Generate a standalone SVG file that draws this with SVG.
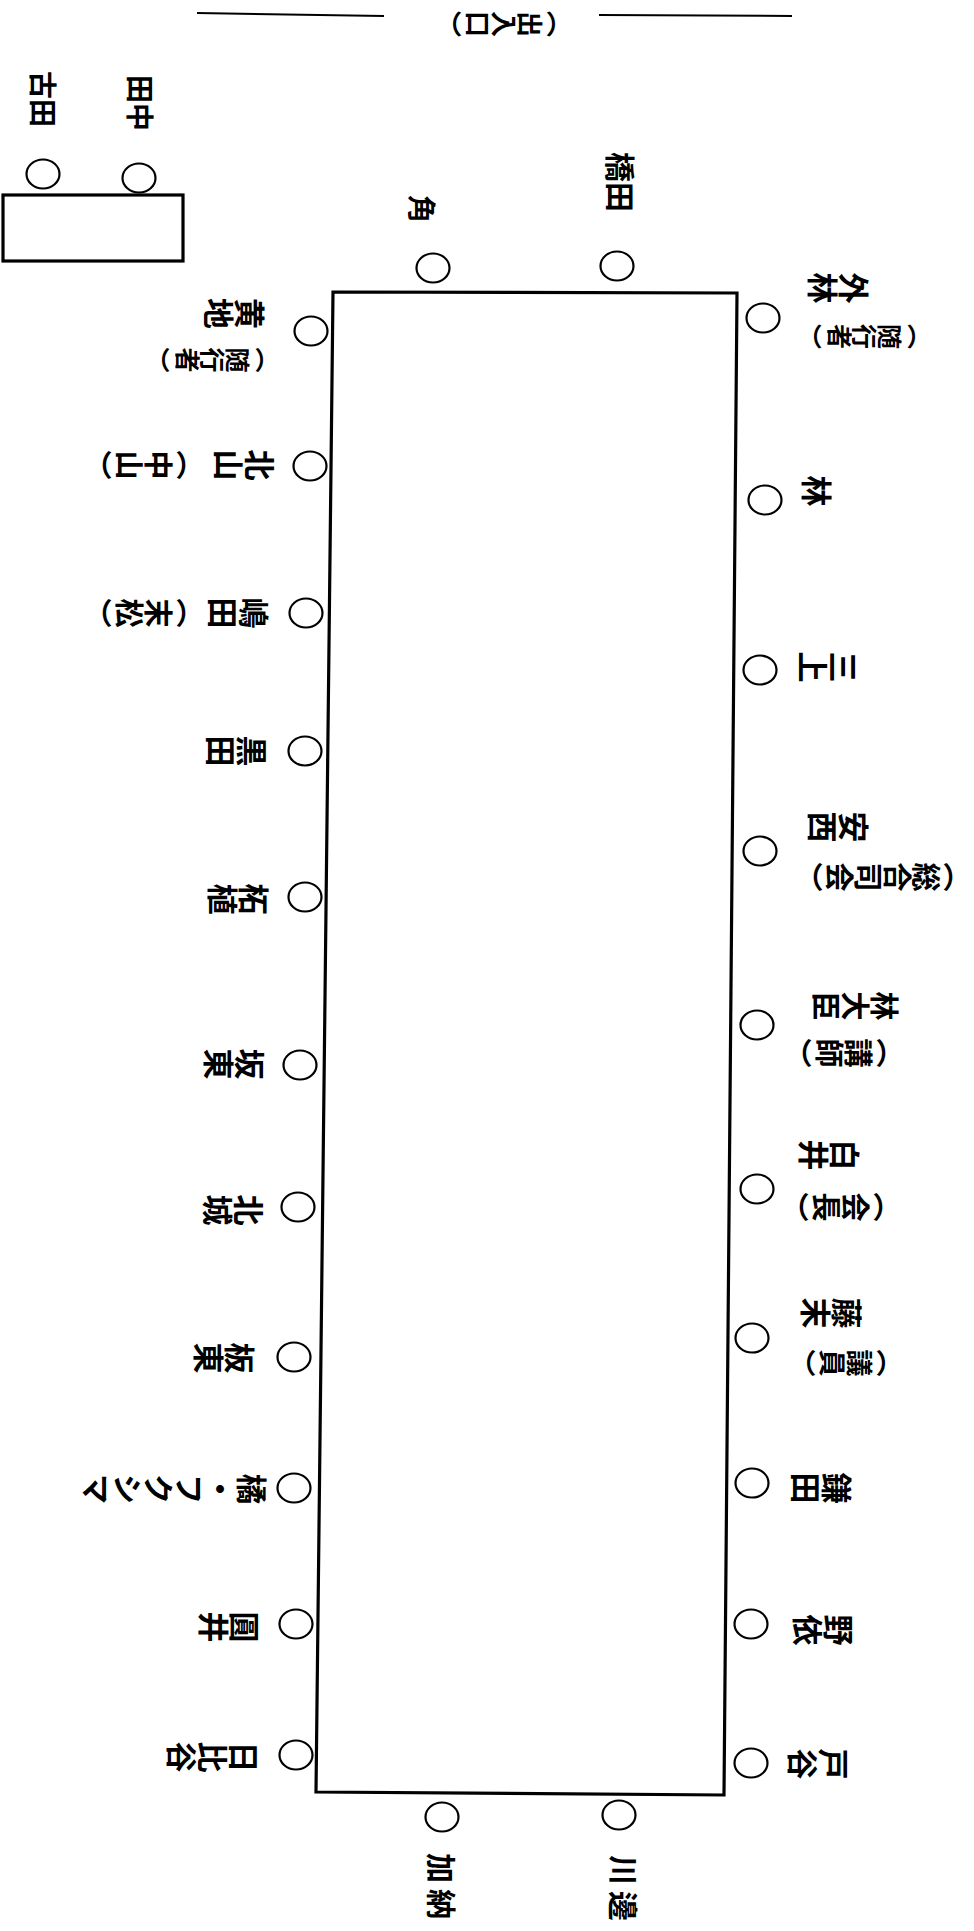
<svg xmlns="http://www.w3.org/2000/svg" width="974" height="1931" viewBox="0 0 974 1931">
<style>
.t{font-family:"Noto Sans CJK JP","Noto Sans CJK SC",sans-serif;font-weight:700;fill:#000}
.v{writing-mode:vertical-rl}
.h{dominant-baseline:central}
.seat{fill:none;stroke:#000;stroke-width:2.2}
.tbl{fill:none;stroke:#000;stroke-width:3.2;stroke-linejoin:miter}
.ln{stroke:#000;stroke-width:2}
</style>
<rect width="974" height="1931" fill="#fff"/>
<g id="entrance">
<line class="ln" x1="197" y1="13" x2="384" y2="16"/>
<line class="ln" x1="599" y1="15" x2="792" y2="16"/>
<text class="t v" font-size="26" transform="translate(572,24) rotate(90)"><tspan letter-spacing="3">（</tspan>出入<tspan letter-spacing="3">口</tspan>）</text>
</g>
<g id="side-table">
<rect class="tbl" x="3" y="195" width="180" height="66"/>
</g>
<g id="main-table">
<polygon class="tbl" points="333,292 737,293 724,1795 316,1792"/>
</g>
<g id="seat-furuta"><ellipse class="seat" cx="43" cy="174" rx="16.5" ry="14.5"/><text class="t h" font-size="28" transform="translate(44,71) rotate(90)">古田</text></g>
<g id="seat-tanaka"><ellipse class="seat" cx="139" cy="178" rx="16.5" ry="14.5"/><text class="t h" font-size="28" transform="translate(141,75) rotate(90)">田中</text></g>
<g id="seat-sumi"><ellipse class="seat" cx="433" cy="268" rx="16.5" ry="14.5"/><text class="t h" font-size="28" transform="translate(423,195) rotate(90)">角</text></g>
<g id="seat-hashida"><ellipse class="seat" cx="617" cy="266" rx="16.5" ry="14.5"/><text class="t h" font-size="30" transform="translate(622,152) rotate(90)">橋田</text></g>
<g id="seat-kouchi"><ellipse class="seat" cx="311" cy="331" rx="16.5" ry="14.5"/><text class="t v" font-size="31" transform="translate(265,313.5) rotate(90)">黄地</text><text class="t v" font-size="25" transform="translate(280,360) rotate(90)"><tspan letter-spacing="5">（</tspan>随行<tspan letter-spacing="5">者</tspan>）</text></g>
<g id="seat-kitayama"><ellipse class="seat" cx="310" cy="466" rx="16.5" ry="14.5"/><text class="t v" font-size="31" transform="translate(275,465) rotate(90)">北山</text><text class="t v" font-size="29" transform="translate(205,465) rotate(90)"><tspan letter-spacing="3">（</tspan>中<tspan letter-spacing="3">山</tspan>）</text></g>
<g id="seat-shimada"><ellipse class="seat" cx="306" cy="613" rx="16.5" ry="14.5"/><text class="t v" font-size="31" transform="translate(269,613) rotate(90)">嶋田</text><text class="t v" font-size="29" transform="translate(205,613) rotate(90)"><tspan letter-spacing="3">（</tspan>末<tspan letter-spacing="3">松</tspan>）</text></g>
<g id="seat-kuroda"><ellipse class="seat" cx="305" cy="751" rx="16.5" ry="14.5"/><text class="t v" font-size="31" transform="translate(267,751) rotate(90)">黒田</text></g>
<g id="seat-tsuge"><ellipse class="seat" cx="305" cy="897" rx="16.5" ry="14.5"/><text class="t v" font-size="31" transform="translate(269,899) rotate(90)">柘植</text></g>
<g id="seat-bando"><ellipse class="seat" cx="300" cy="1065" rx="16.5" ry="14.5"/><text class="t v" font-size="31" transform="translate(265,1064) rotate(90)">坂東</text></g>
<g id="seat-hojo"><ellipse class="seat" cx="298" cy="1207" rx="16.5" ry="14.5"/><text class="t v" font-size="31" transform="translate(264,1210) rotate(90)">北城</text></g>
<g id="seat-itahigashi"><ellipse class="seat" cx="294" cy="1357" rx="16.5" ry="14.5"/><text class="t v" font-size="31" transform="translate(255,1358) rotate(90)">板東</text></g>
<g id="seat-tachibana"><ellipse class="seat" cx="294" cy="1488" rx="16.5" ry="14.5"/><text class="t v" font-size="31" transform="translate(267,1489) rotate(90)">橘・フクシマ</text></g>
<g id="seat-marui"><ellipse class="seat" cx="296" cy="1624" rx="16.5" ry="14.5"/><text class="t v" font-size="31" transform="translate(260,1627) rotate(90)">圓井</text></g>
<g id="seat-hibiya"><ellipse class="seat" cx="296" cy="1755" rx="16.5" ry="14.5"/><text class="t v" font-size="31" transform="translate(259,1757) rotate(90)">日比谷</text></g>
<g id="seat-hayashi-aide"><ellipse class="seat" cx="763" cy="318" rx="16.5" ry="14.5"/><text class="t v" font-size="31" transform="translate(869,288) rotate(90)">外林</text><text class="t v" font-size="25" transform="translate(932,336.5) rotate(90)"><tspan letter-spacing="5">（</tspan>随行<tspan letter-spacing="5">者</tspan>）</text></g>
<g id="seat-hayashi"><ellipse class="seat" cx="765" cy="500" rx="16.5" ry="14.5"/><text class="t v" font-size="31" transform="translate(832,491) rotate(90)">林</text></g>
<g id="seat-mikami"><ellipse class="seat" cx="760" cy="670" rx="16.5" ry="14.5"/><text class="t v" font-size="31" transform="translate(859,667) rotate(90)">三上</text></g>
<g id="seat-anzai"><ellipse class="seat" cx="760" cy="851" rx="16.5" ry="14.5"/><text class="t v" font-size="31" transform="translate(869,827) rotate(90)">安西</text><text class="t v" font-size="29" transform="translate(972,877) rotate(90)"><tspan letter-spacing="2">（</tspan>総合司<tspan letter-spacing="2">会</tspan>）</text></g>
<g id="seat-minister"><ellipse class="seat" cx="757" cy="1025" rx="16.5" ry="14.5"/><text class="t v" font-size="29" transform="translate(899,1006) rotate(90)">林大臣</text><text class="t v" font-size="29" transform="translate(905,1053) rotate(90)"><tspan letter-spacing="3">（</tspan>講<tspan letter-spacing="3">師</tspan>）</text></g>
<g id="seat-shirai"><ellipse class="seat" cx="757" cy="1189" rx="16.5" ry="14.5"/><text class="t v" font-size="31" transform="translate(860,1155) rotate(90)">白井</text><text class="t v" font-size="29" transform="translate(902,1207) rotate(90)"><tspan letter-spacing="3">（</tspan>会<tspan letter-spacing="3">長</tspan>）</text></g>
<g id="seat-fujisue"><ellipse class="seat" cx="752" cy="1338" rx="16.5" ry="14.5"/><text class="t v" font-size="31" transform="translate(862,1313) rotate(90)">藤末</text><text class="t v" font-size="27" transform="translate(903,1363) rotate(90)"><tspan letter-spacing="3">（</tspan>議<tspan letter-spacing="3">員</tspan>）</text></g>
<g id="seat-kamata"><ellipse class="seat" cx="752" cy="1483" rx="16.5" ry="14.5"/><text class="t v" font-size="31" transform="translate(852,1488) rotate(90)">鎌田</text></g>
<g id="seat-noyori"><ellipse class="seat" cx="751" cy="1624" rx="16.5" ry="14.5"/><text class="t v" font-size="31" transform="translate(854,1630) rotate(90)">野依</text></g>
<g id="seat-toya"><ellipse class="seat" cx="751" cy="1763" rx="16.5" ry="14.5"/><text class="t v" font-size="31" transform="translate(849,1764) rotate(90)">戸谷</text></g>
<g id="seat-kano"><ellipse class="seat" cx="442" cy="1817" rx="16.5" ry="14.5"/><text class="t h" font-size="30" letter-spacing="6" transform="translate(443,1853) rotate(90)">加納</text></g>
<g id="seat-kawabe"><ellipse class="seat" cx="619" cy="1815" rx="16.5" ry="14.5"/><text class="t h" font-size="30" letter-spacing="6" transform="translate(625,1855) rotate(90)">川邊</text></g>
</svg>
